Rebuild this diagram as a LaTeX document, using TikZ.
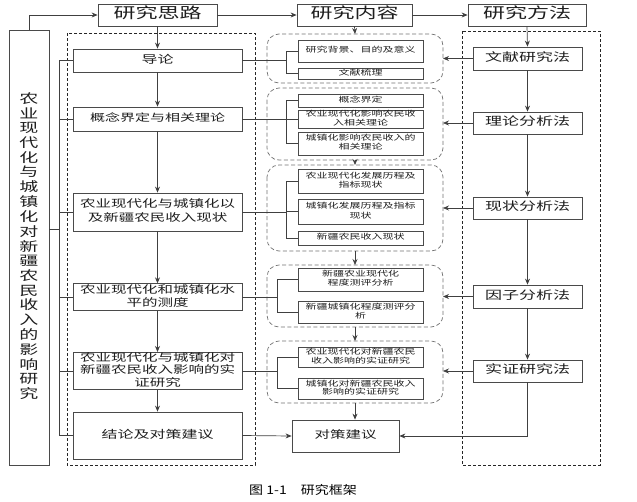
\documentclass[tikz,border=0pt]{standalone}
\usepackage{fontspec}
\setmainfont{Noto Sans CJK SC}
\usetikzlibrary{arrows.meta}
\definecolor{lc}{HTML}{404040}
\definecolor{bc}{HTML}{4a4a4a}
\definecolor{tc}{HTML}{1e1e1e}
\newcommand\sqz[3]{\scalebox{1}[0.68]{\fontsize{#1}{#2}\selectfont\begin{tabular}{@{}c@{}}#3\end{tabular}}}
\begin{document}
\begin{tikzpicture}[x=1pt,y=-1pt,
  ln/.style={draw=lc,line width=0.7pt},
  ar/.style={ln,-{Stealth[length=6pt,width=5pt]}},
  bx/.style={draw=bc,line width=0.8pt,inner sep=0pt,text=tc,fill=white},
  dbox/.style={draw=black!85,line width=0.8pt,dash pattern=on 3pt off 2pt},
  grp/.style={draw=black!55,line width=0.7pt,dash pattern=on 4pt off 2.5pt,rounded corners=12pt}]
\useasboundingbox (0,0) rectangle (637,501);
\fill[white] (0,0) rectangle (637,501);
% dashed frames
\draw[dbox] (67,33) rectangle (255,465);
\draw[dbox] (462,31) rectangle (600,465);
\draw[grp] (267,34) rectangle (443,83);
\draw[grp] (267,88) rectangle (443,160);
\draw[grp] (267,165) rectangle (443,251);
\draw[grp] (267,265) rectangle (443,327);
\draw[grp] (267,341) rectangle (443,403);
% headers
\node[bx,minimum width=119pt,minimum height=22pt] (h1) at (157.5,15) {\sqz{22}{24}{研究思路}};
\node[bx,minimum width=115pt,minimum height=22pt] (h2) at (354.5,15) {\sqz{22}{24}{研究内容}};
\node[bx,minimum width=118pt,minimum height=22pt] (h3) at (527,15) {\sqz{22}{24}{研究方法}};
% left title
\node[bx,minimum width=40pt,minimum height=435pt] (L) at (29,247.5) {\sqz{19}{20}{农\\业\\现\\代\\化\\与\\城\\镇\\化\\对\\新\\疆\\农\\民\\收\\入\\的\\影\\响\\研\\究}};
% left column
\node[bx,minimum width=169pt,minimum height=23pt] (a1) at (157.5,60.5) {\sqz{16}{20}{导论}};
\node[bx,minimum width=169pt,minimum height=24pt] (a2) at (157.5,119) {\sqz{15}{20}{概念界定与相关理论}};
\node[bx,minimum width=169pt,minimum height=38pt] (a3) at (157.5,212) {\sqz{15.5}{20.5}{农业现代化与城镇化以\\及新疆农民收入现状}};
\node[bx,minimum width=169pt,minimum height=26pt] (a4) at (157.5,297) {\sqz{15.5}{19.5}{农业现代化和城镇化水\\平的测度}};
\node[bx,minimum width=169pt,minimum height=36pt] (a5) at (157.5,371) {\sqz{15.5}{17.2}{农业现代化与城镇化对\\新疆农民收入影响的实\\证研究}};
\node[bx,minimum width=169pt,minimum height=47pt] (a6) at (157.5,435.5) {\sqz{16}{20}{结论及对策建议}};
% middle items
\node[bx,minimum width=125pt,minimum height=22pt] (b11) at (360.5,51) {\sqz{11}{12}{研究背景、目的及意义}};
\node[bx,minimum width=125pt,minimum height=11pt] (b12) at (360.5,73.5) {\sqz{11}{12}{文献梳理}};
\node[bx,minimum width=125pt,minimum height=13pt] (b21) at (360.5,100.5) {\sqz{11}{12}{概念界定}};
\node[bx,minimum width=125pt,minimum height=18pt] (b22) at (360.5,119) {\sqz{11}{12}{农业现代化影响农民收\\入相关理论}};
\node[bx,minimum width=125pt,minimum height=23pt] (b23) at (360.5,143.5) {\sqz{11}{13}{城镇化影响农民收入的\\相关理论}};
\node[bx,minimum width=125pt,minimum height=24pt] (b31) at (360.5,181) {\sqz{11}{13}{农业现代化发展历程及\\指标现状}};
\node[bx,minimum width=125pt,minimum height=25pt] (b32) at (360.5,211.5) {\sqz{11}{14}{城镇化发展历程及指标\\现状}};
\node[bx,minimum width=125pt,minimum height=14pt] (b33) at (360.5,238) {\sqz{11}{12}{新疆农民收入现状}};
\node[bx,minimum width=125pt,minimum height=23pt] (b41) at (360.5,279.5) {\sqz{11}{13}{新疆农业现代化\\程度测评分析}};
\node[bx,minimum width=125pt,minimum height=22pt] (b42) at (360.5,312) {\sqz{11}{13}{新疆城镇化程度测评分\\析}};
\node[bx,minimum width=125pt,minimum height=20pt] (b51) at (360.5,357) {\sqz{11}{12}{农业现代化对新疆农民\\收入影响的实证研究}};
\node[bx,minimum width=125pt,minimum height=21pt] (b52) at (360.5,388.5) {\sqz{11}{12}{城镇化对新疆农民收入\\影响的实证研究}};
\node[bx,minimum width=107pt,minimum height=32pt] (c) at (345.5,436) {\sqz{15.5}{20}{对策建议}};
% methods
\node[bx,minimum width=109pt,minimum height=23pt] (m1) at (527.5,58.5) {\sqz{17}{20}{文献研究法}};
\node[bx,minimum width=109pt,minimum height=22pt] (m2) at (527.5,123) {\sqz{17}{20}{理论分析法}};
\node[bx,minimum width=109pt,minimum height=22pt] (m3) at (527.5,208) {\sqz{17}{20}{现状分析法}};
\node[bx,minimum width=109pt,minimum height=23pt] (m4) at (527.5,296.5) {\sqz{17}{20}{因子分析法}};
\node[bx,minimum width=109pt,minimum height=22pt] (m5) at (527.5,371) {\sqz{17}{20}{实证研究法}};
% caption
\node[text=black] (cap) at (303,490) {\scalebox{1}[0.85]{\fontsize{14}{16}\selectfont 图 1-1\quad 研究框架}};
% helper coordinates
\coordinate (bus) at (59,0);
\coordinate (k1) at (286,0);
\coordinate (k2) at (277,0);
\coordinate (ge) at (443,0);
\coordinate (Lout) at (49,229);
\coordinate (g1t) at (355,34);
\coordinate (g2b) at (355,160);
\coordinate (g3t) at (355,165);
\coordinate (g3b) at (355,251);
\coordinate (g4t) at (355,265);
\coordinate (g4b) at (355,327);
\coordinate (g5t) at (355,341);
\coordinate (g5b) at (355,403);
% header connectors
\draw[ar] (L.north) |- (h1.west);
\draw[ar] (h1.east) -- (h2.west);
\draw[ar] (h2.east) -- (h3.west);
% left chain
\draw[ar] (h1.south) -- (a1.north);
\draw[ar] (a1.south) -- (a2.north);
\draw[ar] (a2.south) -- (a3.north);
\draw[ar] (a3.south) -- (a4.north);
\draw[ar] (a4.south) -- (a5.north);
\draw[ar] (a5.south) -- (a6.north);
% bus
\draw[ln] (a1.west) -- (a1.west -| bus) -- (a6.west -| bus) -- (a6.west);
\draw[ln] (a2.west) -- (a2.west -| bus);
\draw[ln] (a3.west) -- (a3.west -| bus);
\draw[ln] (a4.west) -- (a4.west -| bus);
\draw[ln] (a5.west) -- (a5.west -| bus);
\draw[ln] (Lout) -- (Lout -| bus);
% brackets
\draw[ln] (a1.east) -- (a1.east -| k1);
\draw[ln] (b11.west) -- (b11.west -| k1) -- (b12.west -| k1) -- (b12.west);
\draw[ln] (a2.east) -- (a2.east -| k1);
\draw[ln] (b21.west) -- (b21.west -| k1) -- (b23.west -| k1) -- (b23.west);
\draw[ln] (b22.west -| k1) -- (b22.west);
\draw[ln] (a3.east) -- (a3.east -| k1);
\draw[ln] (b31.west) -- (b31.west -| k1) -- (b33.west -| k1) -- (b33.west);
\draw[ln] (b32.west -| k1) -- (b32.west);
\draw[ln] (a4.east) -- (a4.east -| k2);
\draw[ln] (b41.west) -- (b41.west -| k2) -- (b42.west -| k2) -- (b42.west);
\draw[ln] (a5.east) -- (a5.east -| k2);
\draw[ln] (b51.west) -- (b51.west -| k2) -- (b52.west -| k2) -- (b52.west);
% middle chain
\draw[ar] (h2.south) -- (g1t);
\draw[ar] (g2b) -- (g3t);
\draw[ar] (g3b) -- (g4t);
\draw[ar] (g4b) -- (g5t);
\draw[ar] (g5b) -- (g5b |- c.north);
\draw[ar] (a6.east) -- (c.west);
% methods chain
\draw[ar] (h3.south) -- (m1.north);
\draw[ar] (m1.south) -- (m2.north);
\draw[ar] (m2.south) -- (m3.north);
\draw[ar] (m3.south) -- (m4.north);
\draw[ar] (m4.south) -- (m5.north);
\draw[ar] (m5.south) |- (c.east);
\draw[ar] (m1.west) -- (m1.west -| ge);
\draw[ar] (m2.west) -- (m2.west -| ge);
\draw[ar] (m3.west) -- (m3.west -| ge);
\draw[ar] (m4.west) -- (m4.west -| ge);
\draw[ar] (m5.west) -- (m5.west -| ge);
\end{tikzpicture}
\end{document}
